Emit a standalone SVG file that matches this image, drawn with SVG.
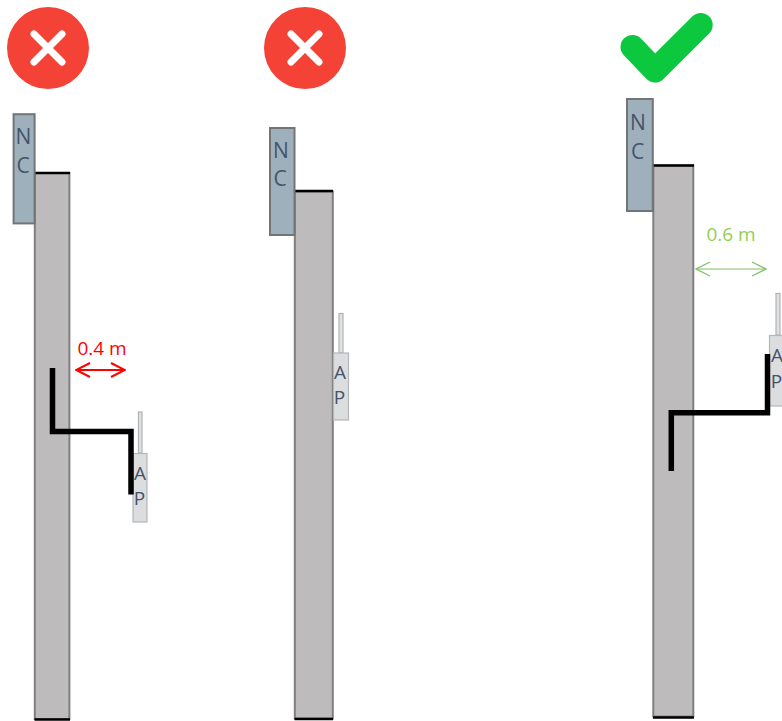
<svg xmlns="http://www.w3.org/2000/svg" width="782" height="721" viewBox="0 0 782 721">
<style>
.bad{fill:#f44336}
.x{stroke:#fff;stroke-width:7;stroke-linecap:round;fill:none}
.nc{fill:#9fb0bd;stroke:#717577;stroke-width:2}
.pole{fill:#bdbbbc;stroke:#7f7f7f;stroke-width:2}
.cap{stroke:#000;stroke-width:2.500;fill:none}
.ap{fill:#dcddde;stroke:#b4b6b8;stroke-width:1.200}
.ant{fill:#e0e1e2;stroke:#b0b2b4;stroke-width:1.200}
.lbl{font-family:"Open Sans","Noto Sans",sans-serif;fill:#44546a;text-anchor:middle}
.n{font-size:21px}
.a{font-size:19px}
.br{fill:none;stroke:#000;stroke-width:5.500;stroke-linejoin:miter}
.dim{font-family:"Open Sans","Noto Sans",sans-serif;font-size:19px;text-anchor:middle}
</style>
<defs>
<marker id="ar" viewBox="0 0 16 16" refX="15" refY="8" markerWidth="16" markerHeight="16" markerUnits="userSpaceOnUse" orient="auto-start-reverse"><path d="M1 1L15 8L1 15" fill="none" stroke="#f00" stroke-width="2"/></marker>
<marker id="ag" viewBox="0 0 16 16" refX="15" refY="8" markerWidth="16" markerHeight="16" markerUnits="userSpaceOnUse" orient="auto-start-reverse"><path d="M1 1L15 8L1 15" fill="none" stroke="#7fc064" stroke-width="1.200"/></marker>
</defs>
<rect width="782" height="721" fill="#fff"/>
<g id="icon-bad-1"><circle class="bad" cx="48" cy="48" r="41"/><path class="x" d="M34 34L62 62M62 34L34 62"/></g>
<g id="icon-bad-2"><circle class="bad" cx="305" cy="48" r="41"/><path class="x" d="M291 34L319 62M319 34L291 62"/></g>
<g id="icon-good"><path d="M632.500 47L655 70.500L700.700 25" fill="none" stroke="#0cc83f" stroke-width="24" stroke-linecap="round" stroke-linejoin="round"/></g>

<g id="pole-1"><rect class="pole" x="34.800" y="173" width="34.600" height="546"/><path class="cap" d="M34.500 173H70M34.500 719.500H70"/></g>
<g id="nc-1"><rect class="nc" x="13.600" y="114.200" width="21" height="109.200"/><text class="lbl n" x="23.500" y="144">N</text><text class="lbl n" x="23" y="173">C</text></g>
<g id="ap-1"><rect class="ant" x="138.500" y="412" width="3.500" height="41"/><rect class="ap" x="133" y="453.500" width="14" height="68.500"/><text class="lbl a" x="140" y="480">A</text><text class="lbl a" x="139.500" y="505">P</text></g>

<g id="pole-2"><rect class="pole" x="294.800" y="191.500" width="38" height="527"/><path class="cap" d="M294.500 191H333M294.500 719H333"/></g>
<g id="nc-2"><rect class="nc" x="270" y="128" width="24.500" height="107"/><text class="lbl n" x="281" y="158">N</text><text class="lbl n" x="280" y="186">C</text></g>
<g id="ap-2"><rect class="ant" x="339" y="313.500" width="4" height="39.500"/><rect class="ap" x="333.500" y="353" width="15" height="67"/><text class="lbl a" x="340" y="379">A</text><text class="lbl a" x="339.500" y="404">P</text></g>

<g id="pole-3"><rect class="pole" x="653.300" y="165.500" width="40" height="551"/><path class="cap" d="M653 165.500H694M653 717.500H694"/></g>
<g id="nc-3"><rect class="nc" x="627" y="99" width="25.800" height="112"/><text class="lbl n" x="638" y="130">N</text><text class="lbl n" x="637.500" y="159">C</text></g>
<g id="ap-3"><rect class="ant" x="776" y="293.500" width="4" height="41.500"/><rect class="ap" x="769.500" y="335.500" width="16" height="70.500"/><text class="lbl a" x="777" y="362">A</text><text class="lbl a" x="776.500" y="388">P</text></g>

<g id="connectors">
<path class="br" d="M52.500 368V431.500H131V494.500"/>
<path class="br" d="M671.300 471V412.700H767.500V354"/>
<path d="M76 370H125" stroke="#f00" stroke-width="2" fill="none" marker-start="url(#ar)" marker-end="url(#ar)"/>
<path d="M696 269H766" stroke="#7fc064" stroke-width="1.200" fill="none" marker-start="url(#ag)" marker-end="url(#ag)"/>
</g>
<text class="dim" x="102" y="355" fill="#f00">0.4 m</text>
<text class="dim" x="731" y="241" fill="#92d050">0.6 m</text>
</svg>
